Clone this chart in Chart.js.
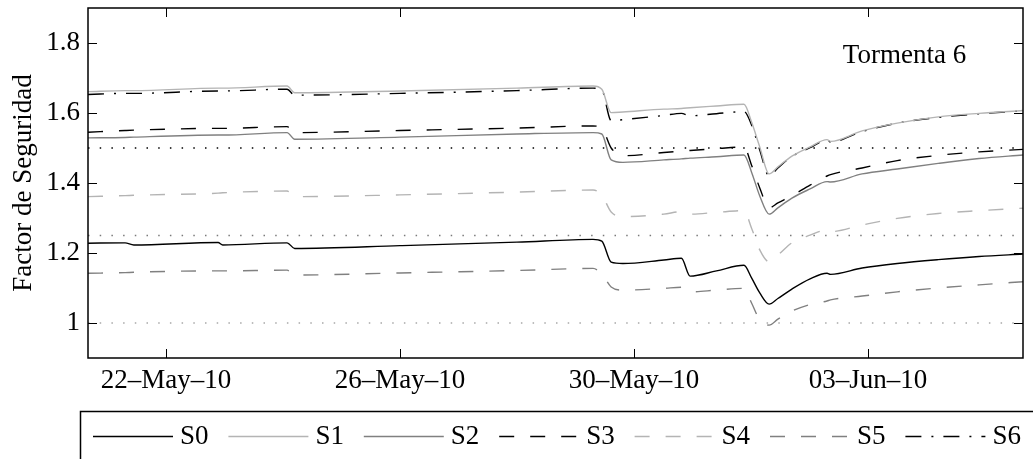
<!DOCTYPE html>
<html>
<head>
<meta charset="utf-8">
<script src="https://cdn.jsdelivr.net/npm/chart.js@4/dist/chart.umd.min.js"></script>
<style>
  body { margin: 0; background: #fff; }
  #wrap { width: 1033px; height: 459px; }
</style>
</head>
<body>
<div id="wrap"><canvas id="fsChart"></canvas></div>
<script>
// dias contados desde el 0 de mayo de 2010 (22 = 22-May-10, 34 = 03-Jun-10)
const days = [20.667, 21.3, 21.45, 22.89, 22.97, 24.07, 24.2, 26.0, 28.0, 29.3, 29.45, 29.61, 29.81, 30.51, 30.81,
  30.96, 31.41, 31.88, 32.01, 32.15, 32.31, 32.46, 32.7, 33.01, 33.3, 33.36, 33.9, 34.5, 35.2, 35.9, 36.65];

const seriesNames = ["S0", "S1", "S2", "S3", "S4", "S5", "S6"];

const s0 = [1.228, 1.229, 1.223, 1.230, 1.223, 1.229, 1.213, 1.221, 1.231, 1.239, 1.234, 1.174, 1.170, 1.180, 1.185,
  1.134, 1.149, 1.165, 1.129, 1.086, 1.054, 1.070, 1.097, 1.126, 1.142, 1.139, 1.157, 1.170, 1.181, 1.190, 1.197];
const s1 = [1.661, 1.664, 1.664, 1.671, 1.671, 1.677, 1.658, 1.663, 1.671, 1.677, 1.668, 1.601, 1.603, 1.611, 1.613,
  1.615, 1.620, 1.625, 1.574, 1.503, 1.426, 1.446, 1.477, 1.503, 1.524, 1.519, 1.549, 1.571, 1.589, 1.599, 1.607];
const s2 = [1.529, 1.530, 1.531, 1.537, 1.537, 1.544, 1.525, 1.531, 1.540, 1.544, 1.540, 1.466, 1.459, 1.466, 1.469,
  1.471, 1.475, 1.480, 1.431, 1.363, 1.311, 1.329, 1.357, 1.383, 1.404, 1.403, 1.426, 1.440, 1.456, 1.470, 1.480];
const s3 = [1.545, 1.550, 1.551, 1.556, 1.556, 1.561, 1.544, 1.550, 1.557, 1.563, 1.557, 1.500, 1.478, 1.487, 1.491,
  1.493, 1.498, 1.503, 1.451, 1.386, 1.329, 1.343, 1.364, 1.394, 1.420, 1.424, 1.443, 1.464, 1.479, 1.489, 1.496];
const s4 = [1.361, 1.364, 1.365, 1.371, 1.372, 1.377, 1.361, 1.366, 1.374, 1.380, 1.366, 1.317, 1.304, 1.311, 1.318,
  1.311, 1.316, 1.321, 1.271, 1.209, 1.175, 1.194, 1.229, 1.251, 1.266, 1.261, 1.280, 1.299, 1.313, 1.321, 1.328];
const s5 = [1.142, 1.144, 1.145, 1.149, 1.149, 1.151, 1.137, 1.143, 1.150, 1.156, 1.140, 1.103, 1.094, 1.099, 1.102,
  1.089, 1.094, 1.099, 1.057, 1.009, 0.994, 1.011, 1.034, 1.053, 1.063, 1.066, 1.077, 1.089, 1.100, 1.109, 1.118];
const s6 = [1.653, 1.656, 1.656, 1.663, 1.663, 1.668, 1.651, 1.656, 1.664, 1.671, 1.666, 1.578, 1.581, 1.593, 1.599,
  1.592, 1.598, 1.604, 1.566, 1.494, 1.420, 1.443, 1.476, 1.501, 1.523, 1.517, 1.547, 1.571, 1.587, 1.598, 1.606];

// lineas de referencia (factor de seguridad minimo)
const refLevels = [1.5, 1.25, 1.0];

const xTickDays = [22, 26, 30, 34];
const yTicks = [1, 1.2, 1.4, 1.6, 1.8];
const XMIN = 20.667, XMAX = 36.65;
const YMIN = 0.9, YMAX = 1.9;

const stormLabel = "Tormenta 6";
const yTitle = "Factor de Seguridad";

const FONT = "'Liberation Serif', 'Times New Roman', serif";
const FS = 27;
const MONTHS = ["Jan", "Feb", "Mar", "Apr", "May", "Jun", "Jul", "Aug", "Sep", "Oct", "Nov", "Dec"];

function dayLabel(v) {
  const d = new Date(2010, 4, Math.round(v));
  const dd = String(d.getDate()).padStart(2, "0");
  const yy = String(d.getFullYear()).slice(2);
  return dd + "\u2013" + MONTHS[d.getMonth()] + "\u2013" + yy;
}

// estilos de cada serie
const styles = [
  { color: "#000000", dash: [] },
  { color: "#b4b4b4", dash: [] },
  { color: "#808080", dash: [] },
  { color: "#000000", dash: [15, 16] },
  { color: "#b4b4b4", dash: [15, 16] },
  { color: "#808080", dash: [15, 16] },
  { color: "#000000", dash: [16, 10, 2, 10] }
];
const seriesValues = [s0, s1, s2, s3, s4, s5, s6];

const datasets = seriesValues.map((vals, k) => ({
  label: seriesNames[k],
  data: days.map((d, i) => ({ x: d, y: vals[i] })),
  borderColor: styles[k].color,
  backgroundColor: styles[k].color,
  borderDash: styles[k].dash,
  borderWidth: 1.4,
  pointRadius: 0,
  cubicInterpolationMode: "monotone",
  fill: false,
  inLegend: true
}));

const refColors = ["#000000", "#7a7a7a", "#a8a8a8"];
refLevels.forEach((lvl, k) => {
  datasets.push({
    label: "ref" + lvl,
    data: [{ x: XMIN, y: lvl }, { x: XMAX, y: lvl }],
    borderColor: refColors[k],
    borderDash: [1.5, 10.2],
    borderWidth: 1.4,
    pointRadius: 0,
    fill: false,
    inLegend: false
  });
});

// ==============================
// marco, ticks hacia dentro, texto y leyenda
// ==============================
const matlabLook = {
  id: "matlabLook",
  afterDraw(chart) {
    const ctx = chart.ctx;
    const { left, right, top, bottom } = chart.chartArea;
    const xs = chart.scales.x, ys = chart.scales.y;
    ctx.save();
    ctx.strokeStyle = "#000";
    ctx.lineWidth = 1.5;
    ctx.setLineDash([]);
    ctx.strokeRect(left, top, right - left, bottom - top);

    ctx.lineWidth = 1;
    ctx.beginPath();
    xTickDays.forEach(v => {
      const px = Math.round(xs.getPixelForValue(v)) + 0.5;
      ctx.moveTo(px, bottom); ctx.lineTo(px, bottom - 9);
      ctx.moveTo(px, top); ctx.lineTo(px, top + 9);
    });
    yTicks.forEach(v => {
      const py = Math.round(ys.getPixelForValue(v)) + 0.5;
      ctx.moveTo(left, py); ctx.lineTo(left + 9, py);
      ctx.moveTo(right, py); ctx.lineTo(right - 9, py);
    });
    ctx.stroke();

    // etiqueta de la tormenta
    ctx.fillStyle = "#000";
    ctx.font = FS + "px " + FONT;
    ctx.textAlign = "left";
    ctx.textBaseline = "alphabetic";
    ctx.fillText(stormLabel, xs.getPixelForValue(33.57), ys.getPixelForValue(1.743));

    // leyenda con recuadro
    const legTop = 411.5, legX = 80.5;
    ctx.lineWidth = 1.5;
    ctx.strokeRect(legX, legTop, 1100, 100);
    const rowY = 436.5;
    let x0 = 93;
    chart.data.datasets.filter(ds => ds.inLegend).forEach(ds => {
      ctx.strokeStyle = ds.borderColor;
      ctx.lineWidth = ds.borderWidth;
      ctx.setLineDash(ds.borderDash);
      ctx.beginPath();
      ctx.moveTo(x0, rowY); ctx.lineTo(x0 + 80, rowY);
      ctx.stroke();
      ctx.setLineDash([]);
      ctx.fillStyle = "#000";
      ctx.textBaseline = "middle";
      ctx.fillText(ds.label, x0 + 87, rowY);
      x0 += 135.4;
    });
    ctx.restore();
  }
};

new Chart(document.getElementById("fsChart"), {
  type: "line",
  data: { datasets },
  options: {
    responsive: true,
    maintainAspectRatio: false,
    animation: false,
    layout: { padding: { top: 8, right: 10, bottom: 61, left: 0 } },
    plugins: { legend: { display: false }, tooltip: { enabled: false } },
    scales: {
      x: {
        type: "linear",
        min: XMIN, max: XMAX,
        grid: { display: false, drawTicks: false },
        border: { display: false },
        afterBuildTicks: s => { s.ticks = xTickDays.map(v => ({ value: v })); },
        afterFit: s => { s.height = 40; s.paddingLeft = 0; s.paddingRight = 0; },
        ticks: {
          color: "#000", padding: 7, maxRotation: 0, autoSkip: false,
          font: { family: FONT, size: FS },
          callback: v => dayLabel(v)
        }
      },
      y: {
        type: "linear",
        min: YMIN, max: YMAX,
        grid: { display: false, drawTicks: false },
        border: { display: false },
        afterBuildTicks: s => { s.ticks = yTicks.map(v => ({ value: v })); },
        afterFit: s => { s.width = 88; s.paddingTop = 0; s.paddingBottom = 0; },
        ticks: {
          color: "#000", padding: 8,
          font: { family: FONT, size: FS },
          callback: v => (v === 1 ? "1" : v.toFixed(1))
        },
        title: {
          display: true, text: yTitle, color: "#000",
          font: { family: FONT, size: FS },
          padding: { top: 8, bottom: 0 }
        }
      }
    }
  },
  plugins: [matlabLook]
});
</script>
</body>
</html>
